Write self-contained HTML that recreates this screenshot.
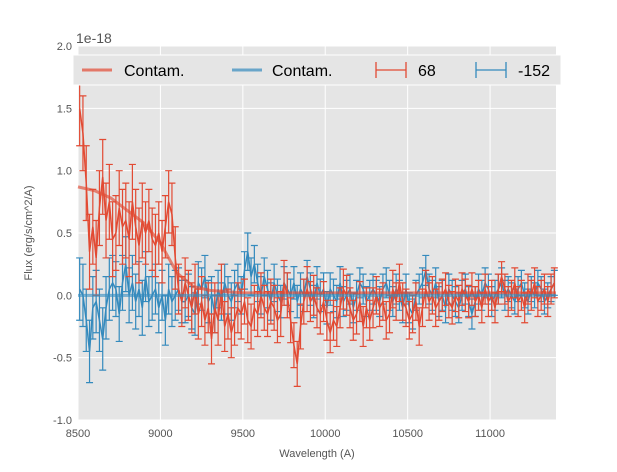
<!DOCTYPE html>
<html><head><meta charset="utf-8">
<style>
body{margin:0;background:#fff;font-family:"Liberation Sans",sans-serif;}
svg text{font-family:"Liberation Sans",sans-serif;}
</style></head>
<body>
<svg id="chart" width="617" height="467" xmlns="http://www.w3.org/2000/svg">
<rect x="78" y="46" width="478" height="374" fill="#e5e5e5"/>
<g id="grid"></g>
<g id="series"></g>
<g id="axes"></g>
<text x="76" y="43" font-size="14" fill="#555">1e-18</text>
<text x="317" y="457" font-size="11" fill="#555" text-anchor="middle">Wavelength (A)</text>
<text x="32" y="233" font-size="11" fill="#555" text-anchor="middle" transform="rotate(-90 32 233)">Flux (erg/s/cm^2/A)</text>
<g>
<rect x="73" y="55" width="488" height="30" fill="#e5e5e5" stroke="#fff"/>
<g><line x1="82" y1="70" x2="112" y2="70" stroke="#E24A33" stroke-opacity="0.7" stroke-width="3"/><text x="124" y="76" font-size="16">Contam.</text></g>
<g><line x1="232" y1="70" x2="262" y2="70" stroke="#348ABD" stroke-opacity="0.7" stroke-width="3"/><text x="272" y="76" font-size="16">Contam.</text></g>
<g stroke="#E24A33" stroke-width="1.3"><line x1="376" y1="70" x2="406" y2="70"/><line x1="376" y1="62" x2="376" y2="78"/><line x1="406" y1="62" x2="406" y2="78"/><text x="418" y="76" font-size="16" stroke="none" fill="#000">68</text></g>
<g stroke="#348ABD" stroke-width="1.3"><line x1="476" y1="70" x2="506" y2="70"/><line x1="476" y1="62" x2="476" y2="78"/><line x1="506" y1="62" x2="506" y2="78"/><text x="518" y="76" font-size="16" stroke="none" fill="#000">-152</text></g>
</g>
</svg>
<script>
const xTicks=[8500,9000,9500,10000,10500,11000];
const yTicks=[-1.0,-0.5,0.0,0.5,1.0,1.5,2.0];
const wlStart=8510, wlStep=20;
const redFlux=[1.5,1.3,0.9,0.35,0.55,0.3,0.7,0.95,0.6,0.75,
0.45,0.5,0.7,0.55,0.6,0.45,0.75,0.55,0.4,0.6,
0.5,0.6,0.45,0.4,0.5,0.35,0.55,0.75,0.65,0.3,
0.05,-0.05,0.1,0.0,-0.1,0.05,-0.15,-0.05,-0.2,-0.1,
-0.35,-0.1,-0.2,0.05,-0.25,-0.15,-0.3,-0.2,-0.1,-0.15,
-0.05,-0.2,-0.25,-0.1,-0.15,0.0,-0.1,-0.15,-0.05,-0.1,
-0.2,-0.15,0.1,0.0,-0.2,-0.4,-0.55,-0.25,-0.05,0.05,
-0.05,0.0,-0.1,-0.15,-0.05,-0.2,-0.3,-0.2,-0.25,-0.1,
0.05,0.0,-0.1,-0.2,-0.15,-0.05,-0.25,-0.1,-0.2,-0.1,
0.0,-0.1,-0.05,-0.2,-0.15,0.05,-0.05,0.1,-0.05,-0.1,
-0.2,-0.15,-0.05,-0.25,-0.1,0.05,-0.05,0.0,-0.1,-0.05,
0.0,0.05,-0.05,-0.1,0.0,-0.05,0.05,0.0,-0.05,0.05,
-0.05,0.0,-0.1,0.05,-0.05,0.0,-0.1,0.05,0.15,0.05,
-0.05,0.0,0.1,-0.05,0.0,-0.1,0.05,0.0,0.1,-0.05,
0.0,0.05,-0.05,0.05,0.1];
const blueFlux=[0.05,0.0,-0.2,-0.45,-0.1,-0.05,-0.2,-0.35,-0.1,0.05,
0.1,0.05,-0.15,0.1,0.25,0.0,0.1,-0.05,0.05,-0.1,
0.15,-0.05,0.0,0.05,-0.1,0.0,-0.2,0.05,-0.05,0.0,
0.05,-0.05,-0.05,0.0,-0.1,-0.15,0.1,0.05,0.15,-0.05,
0.0,-0.15,0.05,-0.05,0.1,0.0,-0.05,0.05,0.1,0.0,
0.2,0.35,0.15,0.25,0.1,0.0,0.15,0.05,-0.05,0.1,
0.0,-0.05,0.1,0.05,0.0,0.1,-0.05,0.05,0.0,0.15,
0.05,-0.05,0.1,0.0,0.05,-0.1,0.05,0.0,-0.05,0.1,
-0.05,0.0,0.05,-0.1,0.0,0.1,0.05,-0.05,0.0,0.05,
0.0,-0.05,0.05,0.1,0.0,-0.05,0.05,0.0,-0.1,0.05,
-0.1,-0.15,0.0,0.05,0.1,0.2,0.05,0.0,0.1,-0.05,
0.0,-0.1,0.05,0.0,-0.05,-0.1,0.0,0.05,-0.05,-0.15,
-0.05,0.05,0.0,0.1,0.05,-0.05,0.0,0.05,0.1,0.0,
0.05,0.0,-0.05,0.05,0.1,0.0,-0.05,0.05,0.0,0.1,
0.05,-0.05,0.0,0.05,0.1];
const redErrBlocks=[0.3,0.3,0.25,0.2,0.2,0.18,0.18,0.16,0.16,0.15,0.15,0.13,0.12,0.12,0.12];
const blueErrBlocks=[0.25,0.22,0.2,0.17,0.15,0.15,0.13,0.13,0.12,0.12,0.12,0.12,0.12,0.1,0.1];
const contamWl=[8500,8600,8700,8800,8900,9000,9100,9200,9300,9500,11400];
const redContam=[0.87,0.84,0.78,0.68,0.58,0.42,0.18,0.07,0.04,0.02,0.02];
const blueContamWl=[8500,11400];
const blueContam=[0.0,0.0];

const NS="http://www.w3.org/2000/svg";
const X0=78,X1=556,Y0=420,Y1=46;
const xs=w=>X0+(w-8500)/(11400-8500)*(X1-X0);
const ys=v=>Y0-(v+1)/3*(Y0-Y1);
function mk(tag,attrs,parent){const e=document.createElementNS(NS,tag);for(const k in attrs)e.setAttribute(k,attrs[k]);parent.appendChild(e);return e;}
const grid=document.getElementById('grid'),axes=document.getElementById('axes'),ser=document.getElementById('series');
xTicks.forEach(t=>{const x=xs(t);
 const g=mk('line',{x1:x,x2:x,y1:Y1,y2:Y0,stroke:'#fff','stroke-width':1},grid);
 
 
 const l=mk('text',{x:x,y:437,'font-size':11,fill:'#555','text-anchor':'middle'},axes);l.textContent=t;
 
 
});
yTicks.forEach(t=>{const y=ys(t);
 const g=mk('line',{x1:X0,x2:X1,y1:y,y2:y,stroke:'#fff','stroke-width':1},grid);
 
 
 const l=mk('text',{x:72,y:y+4,'font-size':11,fill:'#555','text-anchor':'end'},axes);l.textContent=t.toFixed(1);
 
 
});
function errSeries(flux,errs,color,name){
 const g=mk('g',{stroke:color,'stroke-width':1.2,fill:'none'},ser);
 
 
 let d='';
 flux.forEach((v,i)=>{const w=wlStart+i*wlStep,x=xs(w),e=errs[Math.min(errs.length-1,Math.floor(i/10))];
  const ya=ys(v+e),yb=ys(v-e);
  mk('path',{d:`M${x},${ya}V${yb}M${x-3.5},${ya}H${x+3.5}M${x-3.5},${yb}H${x+3.5}`},g);
  d+=(i?'L':'M')+x+','+ys(v);
 });
 mk('path',{d:d,'stroke-width':1.5},g);
}
function contam(wl,vals,color,name){
 const p=mk('path',{d:wl.map((w,i)=>(i?'L':'M')+xs(w)+','+ys(vals[i])).join(''),stroke:color,'stroke-opacity':0.65,'stroke-width':3,fill:'none'},ser);
 
 
}
errSeries(blueFlux,blueErrBlocks,'#348ABD','series-152');
errSeries(redFlux,redErrBlocks,'#E24A33','series-68');
contam(contamWl,redContam,'#E24A33','contam-line-68');
contam(blueContamWl,blueContam,'#348ABD','contam-line-152');
</script>
</body></html>
